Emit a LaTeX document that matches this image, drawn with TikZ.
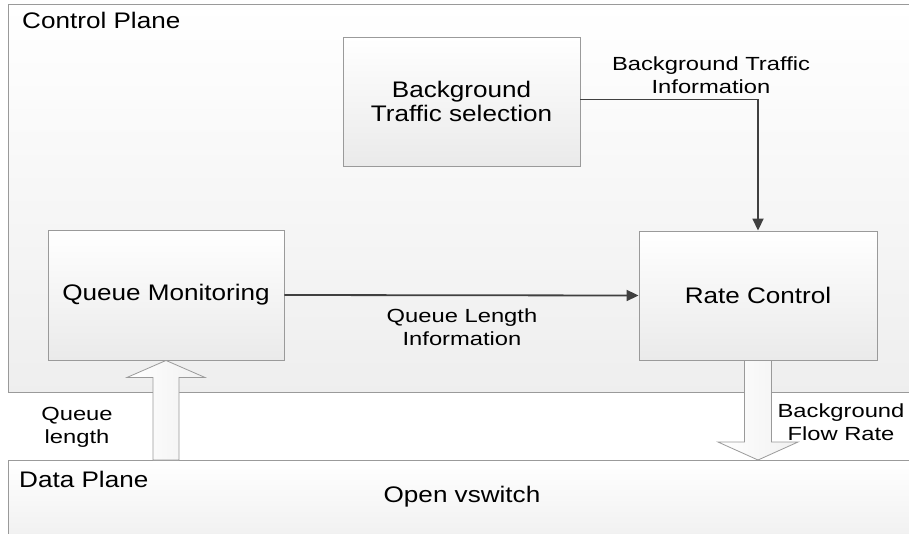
\documentclass[tikz,border=0pt]{standalone}
\usepackage{fontspec}
\setmainfont{Liberation Sans}
\newfontfamily\widesans[FakeStretch=1.16]{Liberation Sans}
\newfontfamily\labelsans[FakeStretch=1.25]{Liberation Sans}
\usetikzlibrary{arrows.meta,calc}

\definecolor{edgegray}{HTML}{9A9A9A}
\definecolor{linkgray}{HTML}{404040}
\definecolor{shadegray}{HTML}{EAEAEA}

\tikzset{
  plane/.style={draw=edgegray, line width=0.9pt, top color=white, bottom color=shadegray!80, inner sep=0pt},
  funcbox/.style={draw=edgegray, line width=0.9pt, top color=white, bottom color=shadegray,
    inner sep=0pt, align=center, font=\widesans\fontsize{22.5}{24}\selectfont},
  bigtext/.style={inner sep=0pt, font=\widesans\fontsize{22.5}{24}\selectfont},
  linktext/.style={inner sep=0pt, align=center, font=\labelsans\fontsize{19}{23}\selectfont},
  link/.style={draw=linkgray, line width=1.8pt, -{Triangle[length=12pt,width=11pt]}},
  blockarrow/.style={draw=edgegray, line width=0.8pt, left color=white, right color=shadegray!70, line join=miter}
}

\begin{document}
\begin{tikzpicture}[x=1pt, y=-1pt]
  \useasboundingbox (0,0) rectangle (909,533);
  \fill[white] (0,0) rectangle (909,533);

  % planes
  \node[plane, minimum width=910pt, minimum height=388pt, anchor=north west] (cp) at (8,4) {};
  \node[plane, minimum width=910pt, minimum height=90pt, anchor=north west] (dp) at (8,460) {};
  \node[bigtext, anchor=base west] (cplabel) at (22,28) {Control Plane};
  \node[bigtext, anchor=base west] (dplabel) at (19,487) {Data Plane};
  \node[bigtext, anchor=base] (ovs) at (462,502) {Open vswitch};

  % functional blocks
  \node[funcbox, minimum width=237pt, minimum height=129pt] (bts) at (461.5,101.5) {Background\\Traffic selection};
  \node[funcbox, minimum width=236pt, minimum height=130pt] (qm) at (166,295) {Queue Monitoring};
  \node[funcbox, minimum width=238pt, minimum height=129pt] (rc) at (758,295.5) {Rate Control};

  % control plane links (label anchors sit on the last text line)
  \draw[link] ([yshift=2pt]bts.east) -| (rc.north);
  \draw[link] (qm.east) -- (rc.west);
  \node[linktext, anchor=base] (btilabel) at (711,93) {Background Traffic\\Information};
  \node[linktext, anchor=base] (qlilabel) at (462,345) {Queue Length\\Information};

  % block arrows between the planes
  \draw[blockarrow]
    ($(qm.south |- dp.north)+(-13,0)$) -- ($(qm.south)+(-13,17)$) -- ($(qm.south)+(-39,17)$)
    -- (qm.south) -- ($(qm.south)+(39,17)$) -- ($(qm.south)+(13,17)$)
    -- ($(qm.south |- dp.north)+(13,0)$) -- cycle;
  \draw[blockarrow]
    ($(rc.south)+(-13.5,0)$) -- ($(rc.south |- dp.north)+(-13.5,-18)$) -- ($(rc.south |- dp.north)+(-40,-18)$)
    -- (rc.south |- dp.north) -- ($(rc.south |- dp.north)+(40,-18)$) -- ($(rc.south |- dp.north)+(13.5,-18)$)
    -- ($(rc.south)+(13.5,0)$) -- cycle;
  \node[linktext, anchor=base] (qllabel) at (77,443) {Queue\\length};
  \node[linktext, anchor=base] (bfrlabel) at (841,440) {Background\\Flow Rate};
\end{tikzpicture}
\end{document}
